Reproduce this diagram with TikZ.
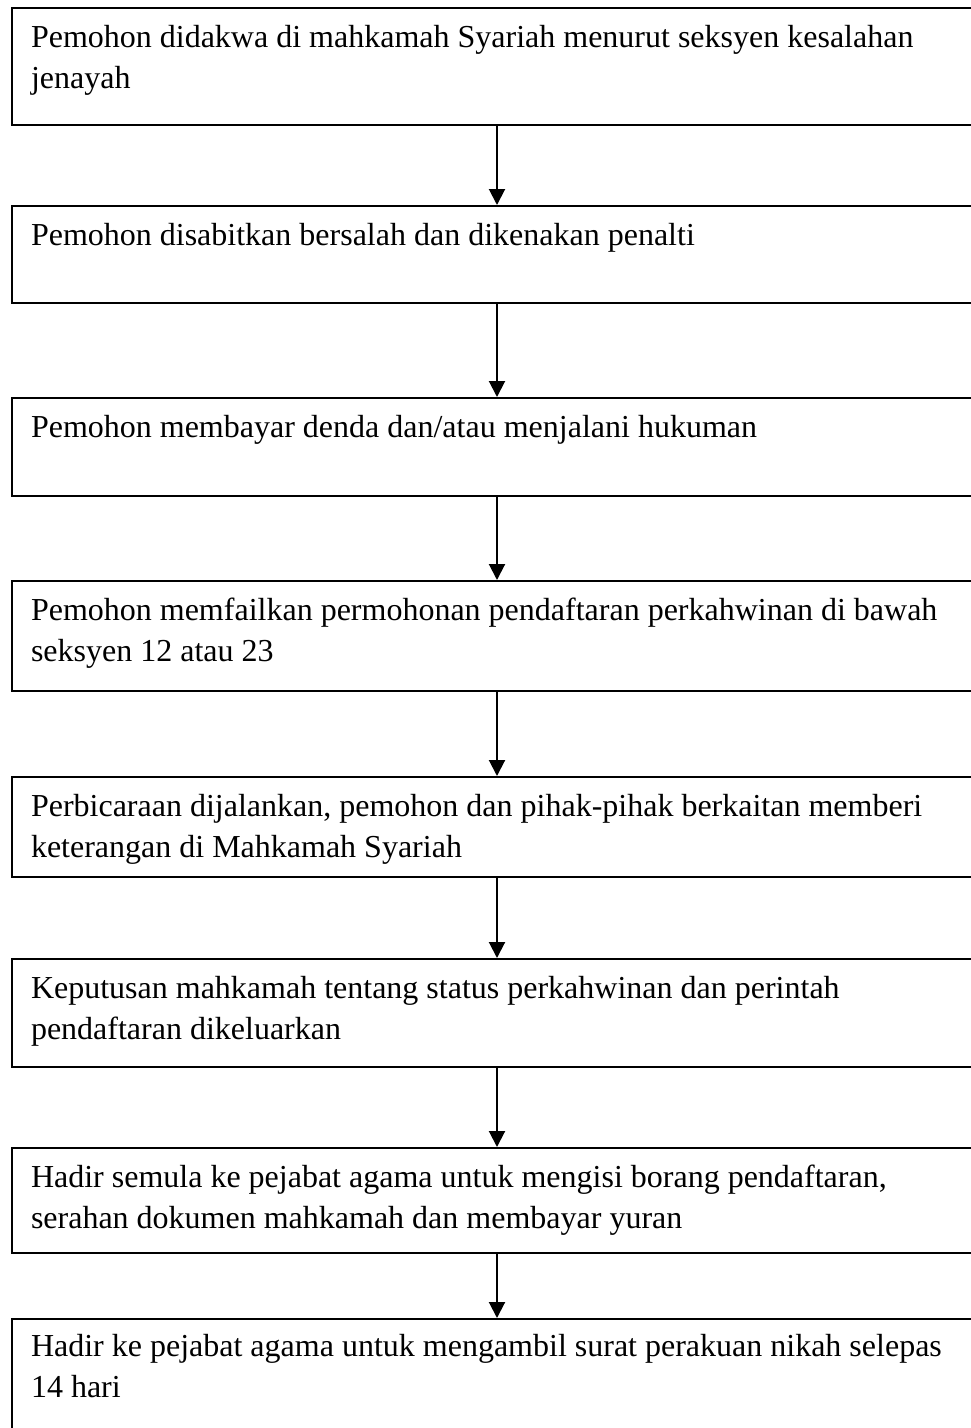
\documentclass[tikz,border=0pt]{standalone}
\usepackage{fontspec}
\setmainfont{Liberation Serif}
\usetikzlibrary{arrows.meta}
\newcommand{\boxtext}[1]{\parbox[t]{935pt}{\fontsize{32}{41.5}\selectfont\raggedright #1}}
\begin{document}
\begin{tikzpicture}[x=1pt,y=-1pt,
  stepbox/.style={draw,line width=2.2pt,rectangle,anchor=north west,minimum width=975pt,inner sep=0pt},
  txt/.style={anchor=base west,inner sep=0pt,outer sep=0pt},
  arr/.style={line width=2pt,-{Triangle[length=16pt,width=16pt]}}]
\useasboundingbox (0,0) rectangle (971,1428);
\clip (0,0) rectangle (971,1428);
\coordinate (ax) at (497,0);
\node[stepbox,minimum height=117pt] (b1) at (11,7) {};
\node[stepbox,minimum height=97pt] (b2) at (11,205) {};
\node[stepbox,minimum height=98pt] (b3) at (11,397) {};
\node[stepbox,minimum height=110pt] (b4) at (11,580) {};
\node[stepbox,minimum height=100pt] (b5) at (11,776) {};
\node[stepbox,minimum height=108pt] (b6) at (11,958) {};
\node[stepbox,minimum height=105pt] (b7) at (11,1147) {};
\node[stepbox,minimum height=140pt] (b8) at (11,1318) {};
\node[txt] (t1) at (31,47) {\boxtext{Pemohon didakwa di mahkamah Syariah menurut seksyen kesalahan\\jenayah}};
\node[txt] (t2) at (31,245) {\boxtext{Pemohon disabitkan bersalah dan dikenakan penalti}};
\node[txt] (t3) at (31,437) {\boxtext{Pemohon membayar denda dan/atau menjalani hukuman}};
\node[txt] (t4) at (31,620) {\boxtext{Pemohon memfailkan permohonan pendaftaran perkahwinan di bawah\\seksyen 12 atau 23}};
\node[txt] (t5) at (31,816) {\boxtext{Perbicaraan dijalankan, pemohon dan pihak-pihak berkaitan memberi\\keterangan di Mahkamah Syariah}};
\node[txt] (t6) at (31,998) {\boxtext{Keputusan mahkamah tentang status perkahwinan dan perintah\\pendaftaran dikeluarkan}};
\node[txt] (t7) at (31,1187) {\boxtext{Hadir semula ke pejabat agama untuk mengisi borang pendaftaran,\\serahan dokumen mahkamah dan membayar yuran}};
\node[txt] (t8) at (31,1356) {\boxtext{Hadir ke pejabat agama untuk mengambil surat perakuan nikah selepas\\14 hari}};
\draw[arr] (b1.south -| ax) -- (b2.north -| ax);
\draw[arr] (b2.south -| ax) -- (b3.north -| ax);
\draw[arr] (b3.south -| ax) -- (b4.north -| ax);
\draw[arr] (b4.south -| ax) -- (b5.north -| ax);
\draw[arr] (b5.south -| ax) -- (b6.north -| ax);
\draw[arr] (b6.south -| ax) -- (b7.north -| ax);
\draw[arr] (b7.south -| ax) -- (b8.north -| ax);
\end{tikzpicture}
\end{document}
